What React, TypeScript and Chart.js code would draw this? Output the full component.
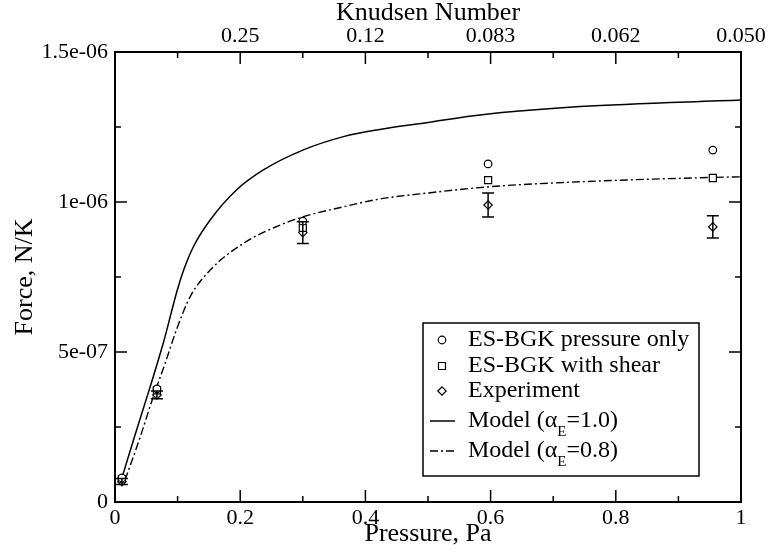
import React, { useEffect, useRef } from 'react';
import { Chart, registerables } from 'chart.js';

Chart.register(...registerables);

// ---------- data ----------
const pressures = [0.011, 0.067, 0.3, 0.596, 0.955];
const esbgkPressureOnly = [8.0e-8, 3.77e-7, 9.36e-7, 1.127e-6, 1.173e-6];
const esbgkWithShear = [7.6e-8, 3.72e-7, 9.14e-7, 1.073e-6, 1.08e-6];
const experiment = [6.8e-8, 3.57e-7, 8.98e-7, 9.9e-7, 9.17e-7];
const experimentErr = [1.0e-8, 1.3e-8, 3.6e-8, 4.0e-8, 3.7e-8];

const model10P = [0.011, 0.03, 0.056, 0.077, 0.1, 0.11, 0.125, 0.152, 0.194, 0.237, 0.3, 0.365, 0.423, 0.5, 0.583, 0.743, 1.0];
const model10F = [8.0e-8, 2.1e-7, 3.83e-7, 5.29e-7, 7.1e-7, 7.75e-7, 8.5e-7, 9.4e-7, 1.04e-6, 1.107e-6, 1.173e-6, 1.218e-6, 1.242e-6, 1.265e-6, 1.29e-6, 1.318e-6, 1.34e-6];

const model08P = [0.016, 0.04, 0.061, 0.08, 0.098, 0.12, 0.152, 0.205, 0.258, 0.301, 0.365, 0.423, 0.5, 0.599, 0.75, 0.956, 1.0];
const model08F = [7.3e-8, 2.15e-7, 3.5e-7, 4.62e-7, 5.73e-7, 6.84e-7, 7.73e-7, 8.62e-7, 9.18e-7, 9.51e-7, 9.84e-7, 1.01e-6, 1.03e-6, 1.051e-6, 1.068e-6, 1.082e-6, 1.084e-6];

const seriesNames = ['ES-BGK pressure only', 'ES-BGK with shear', 'Experiment'];
const modelLabels = [
  ['Model (\u03B1', 'E', '=1.0)'],
  ['Model (\u03B1', 'E', '=0.8)'],
];

const xTickValues = [0, 0.2, 0.4, 0.6, 0.8, 1];
const xTickLabels = ['0', '0.2', '0.4', '0.6', '0.8', '1'];
const xMinorTicks = [0.1, 0.3, 0.5, 0.7, 0.9];
const knudsenTickValues = [0.2, 0.4, 0.6, 0.8, 1.0];
const knudsenTickLabels = ['0.25', '0.12', '0.083', '0.062', '0.050'];
const yTickValues = [0, 5e-7, 1e-6, 1.5e-6];
const yTickLabels = ['0', '5e-07', '1e-06', '1.5e-06'];
const yMinorTicks = [2.5e-7, 7.5e-7, 1.25e-6];

// ---------- styles ----------
const FONT = '"Liberation Serif", "Times New Roman", serif';
const DASHDOT = [8, 3, 2, 3];

function drawMarker(ctx: CanvasRenderingContext2D, kind: string, x: number, y: number) {
  ctx.beginPath();
  if (kind === 'circle') {
    ctx.arc(x, y, 3.8, 0, Math.PI * 2);
  } else if (kind === 'rect') {
    ctx.rect(x - 3.5, y - 3.5, 7, 7);
  } else {
    ctx.moveTo(x, y - 4.2);
    ctx.lineTo(x + 4.2, y);
    ctx.lineTo(x, y + 4.2);
    ctx.lineTo(x - 4.2, y);
    ctx.closePath();
  }
  ctx.fillStyle = '#fff';
  ctx.fill();
  ctx.stroke();
}

const decorPlugin = {
  id: 'decor',
  afterDatasetsDraw(chart: any) {
    const { ctx, chartArea: a, scales } = chart;
    const xs = scales.x;
    const ys = scales.y;
    ctx.save();
    ctx.strokeStyle = '#000';
    ctx.fillStyle = '#000';

    // error bars
    ctx.lineWidth = 1.5;
    pressures.forEach((p, i) => {
      const px = xs.getPixelForValue(p);
      const t = ys.getPixelForValue(experiment[i] + experimentErr[i]);
      const b = ys.getPixelForValue(experiment[i] - experimentErr[i]);
      ctx.beginPath();
      ctx.moveTo(px, t); ctx.lineTo(px, b);
      ctx.moveTo(px - 6, t); ctx.lineTo(px + 6, t);
      ctx.moveTo(px - 6, b); ctx.lineTo(px + 6, b);
      ctx.stroke();
    });

    // inward tick marks
    const MAJ = 12, MIN = 6;
    ctx.lineWidth = 1.5;
    ctx.beginPath();
    const xTick = (v: number, len: number) => {
      const px = xs.getPixelForValue(v);
      ctx.moveTo(px, a.bottom); ctx.lineTo(px, a.bottom - len);
    };
    const x2Tick = (v: number, len: number) => {
      const px = xs.getPixelForValue(v);
      ctx.moveTo(px, a.top); ctx.lineTo(px, a.top + len);
    };
    const yTick = (v: number, len: number) => {
      const py = ys.getPixelForValue(v);
      ctx.moveTo(a.left, py); ctx.lineTo(a.left + len, py);
      ctx.moveTo(a.right, py); ctx.lineTo(a.right - len, py);
    };
    xTickValues.forEach(v => xTick(v, MAJ));
    xMinorTicks.forEach(v => { xTick(v, MIN); x2Tick(v, MIN); });
    knudsenTickValues.forEach(v => x2Tick(v, MAJ));
    yTickValues.forEach(v => yTick(v, MAJ));
    yMinorTicks.forEach(v => yTick(v, MIN));
    ctx.stroke();

    // frame
    ctx.lineWidth = 2;
    ctx.strokeRect(a.left, a.top, a.right - a.left, a.bottom - a.top);

    // legend
    const bx = 423, by = 323, bw = 276, bh = 153;
    ctx.fillStyle = '#fff';
    ctx.fillRect(bx, by, bw, bh);
    ctx.lineWidth = 1.5;
    ctx.strokeRect(bx, by, bw, bh);
    const rows = [340, 366, 391, 421, 451];
    const mx = 442, tx = 468;
    const kinds = ['circle', 'rect', 'rectRot'];
    ctx.lineWidth = 1.2;
    kinds.forEach((k, i) => drawMarker(ctx, k, mx, rows[i]));
    ctx.fillStyle = '#000';
    ctx.font = `24px ${FONT}`;
    ctx.textBaseline = 'middle';
    ctx.textAlign = 'left';
    seriesNames.forEach((s, i) => ctx.fillText(s, tx, rows[i]));
    modelLabels.forEach((parts, j) => {
      const ry = rows[3 + j];
      ctx.lineWidth = 1.5;
      ctx.setLineDash(j === 1 ? DASHDOT : []);
      ctx.beginPath();
      ctx.moveTo(430, ry); ctx.lineTo(455, ry);
      ctx.stroke();
      ctx.setLineDash([]);
      ctx.font = `24px ${FONT}`;
      ctx.fillText(parts[0], tx, ry);
      const w0 = ctx.measureText(parts[0]).width;
      ctx.font = `15px ${FONT}`;
      ctx.fillText(parts[1], tx + w0, ry + 11);
      const w1 = ctx.measureText(parts[1]).width;
      ctx.font = `24px ${FONT}`;
      ctx.fillText(parts[2], tx + w0 + w1, ry);
    });
    ctx.restore();
  },
};

function toPts(xs: number[], ys: number[]) {
  return xs.map((x, i) => ({ x, y: ys[i] }));
}

export default function App() {
  const ref = useRef<HTMLCanvasElement>(null);
  useEffect(() => {
    document.body.style.margin = '0';
    Chart.defaults.font.family = FONT;
    Chart.defaults.color = '#000';
    const markerBase = {
      showLine: false,
      pointBorderColor: '#000',
      pointBackgroundColor: '#fff',
      pointBorderWidth: 1.2,
      order: 1,
    };
    const chart = new Chart(ref.current as HTMLCanvasElement, {
      type: 'scatter',
      data: {
        datasets: [
          {
            label: 'Model 1.0',
            data: toPts(model10P, model10F),
            showLine: true,
            borderColor: '#000',
            borderWidth: 1.5,
            pointRadius: 0,
            cubicInterpolationMode: 'monotone',
            order: 10,
          } as any,
          {
            label: 'Model 0.8',
            data: toPts(model08P, model08F),
            showLine: true,
            borderColor: '#000',
            borderWidth: 1.4,
            borderDash: DASHDOT,
            pointRadius: 0,
            cubicInterpolationMode: 'monotone',
            order: 10,
          } as any,
          { ...markerBase, label: seriesNames[0], data: toPts(pressures, esbgkPressureOnly), pointStyle: 'circle', pointRadius: 3.8 } as any,
          { ...markerBase, label: seriesNames[1], data: toPts(pressures, esbgkWithShear), pointStyle: 'rect', pointRadius: 5 } as any,
          { ...markerBase, label: seriesNames[2], data: toPts(pressures, experiment), pointStyle: 'rectRot', pointRadius: 4.2 } as any,
        ],
      },
      options: {
        responsive: false,
        animation: false,
        layout: { padding: { left: 0, right: 30, top: 0, bottom: 0 } },
        plugins: { legend: { display: false }, tooltip: { enabled: false } },
        scales: {
          x: {
            type: 'linear',
            position: 'bottom',
            min: 0,
            max: 1,
            afterBuildTicks: (s: any) => { s.ticks = xTickValues.map(v => ({ value: v })); },
            afterFit: (s: any) => { s.height = 55; },
            ticks: { callback: (_v: any, i: number) => xTickLabels[i], font: { size: 22 }, color: '#000', padding: 3, maxRotation: 0, autoSkip: false },
            grid: { display: false, drawTicks: false },
            border: { display: false },
            title: { display: true, text: 'Pressure, Pa', font: { size: 26, lineHeight: 1 }, color: '#000', padding: { top: 0, bottom: 10 } },
          },
          x2: {
            type: 'linear',
            position: 'top',
            min: 0,
            max: 1,
            afterBuildTicks: (s: any) => { s.ticks = knudsenTickValues.map(v => ({ value: v })); },
            afterFit: (s: any) => { s.height = 52; },
            ticks: { callback: (_v: any, i: number) => knudsenTickLabels[i], font: { size: 22 }, color: '#000', padding: 3, maxRotation: 0, autoSkip: false },
            grid: { display: false, drawTicks: false },
            border: { display: false },
            title: { display: true, text: 'Knudsen Number', font: { size: 26, lineHeight: 1 }, color: '#000', padding: { top: 0, bottom: 0 } },
          },
          y: {
            type: 'linear',
            position: 'left',
            min: 0,
            max: 1.5e-6,
            afterBuildTicks: (s: any) => { s.ticks = yTickValues.map(v => ({ value: v })); },
            afterFit: (s: any) => { s.width = 115; },
            ticks: { callback: (_v: any, i: number) => yTickLabels[i], font: { size: 22 }, color: '#000', padding: 7, autoSkip: false },
            grid: { display: false, drawTicks: false },
            border: { display: false },
            title: { display: true, text: 'Force, N/K', font: { size: 26, lineHeight: 1 }, color: '#000', padding: { top: 12, bottom: 0 } },
          },
        },
      } as any,
      plugins: [decorPlugin],
    });
    return () => chart.destroy();
  }, []);
  return (
    <div style={{ width: 771, height: 557 }}>
      <canvas ref={ref} width={771} height={557} style={{ display: 'block' }} />
    </div>
  );
}
